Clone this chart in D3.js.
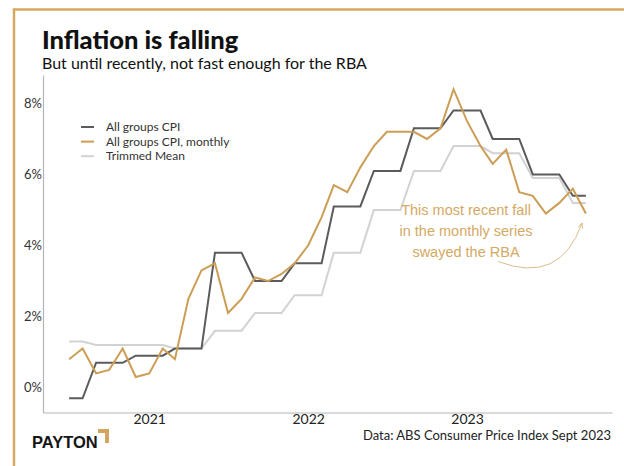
<!DOCTYPE html>
<html>
<head>
<meta charset="utf-8">
<script src="https://cdn.jsdelivr.net/npm/d3@7"></script>
<style>
  html, body { margin: 0; padding: 0; background: #fff; }
  svg { display: block; }
</style>
</head>
<body>
<svg id="chart" width="624" height="466"></svg>
<script>
// Month-end series, July 2020 to October 2023
const months = d3.timeMonths(new Date(2020, 6, 1), new Date(2023, 10, 1));

// Quarterly CPI, annual % change (each quarter's value carried across its months)
const cpiAllGroups = [
  -0.3, -0.3, 0.7, 0.7, 0.7, 0.9, 0.9, 0.9, 1.1, 1.1,
  1.1, 3.8, 3.8, 3.8, 3.0, 3.0, 3.0, 3.5, 3.5, 3.5,
  5.1, 5.1, 5.1, 6.1, 6.1, 6.1, 7.3, 7.3, 7.3, 7.8,
  7.8, 7.8, 7.0, 7.0, 7.0, 6.0, 6.0, 6.0, 5.4, 5.4
];

// Monthly CPI indicator, annual % change
const cpiMonthly = [
  0.8, 1.1, 0.4, 0.5, 1.1, 0.3, 0.4, 1.1, 0.8, 2.5,
  3.3, 3.5, 2.1, 2.5, 3.1, 3.0, 3.2, 3.5, 4.0, 4.8,
  5.7, 5.5, 6.2, 6.8, 7.2, 7.2, 7.2, 7.0, 7.3, 8.4,
  7.5, 6.8, 6.3, 6.7, 5.5, 5.4, 4.9, 5.2, 5.6, 4.9
];

// Trimmed mean, annual % change
const trimmedMean = [
  1.3, 1.3, 1.2, 1.2, 1.2, 1.2, 1.2, 1.2, 1.1, 1.1,
  1.1, 1.6, 1.6, 1.6, 2.1, 2.1, 2.1, 2.6, 2.6, 2.6,
  3.8, 3.8, 3.8, 5.0, 5.0, 5.0, 6.1, 6.1, 6.1, 6.8,
  6.8, 6.8, 6.6, 6.6, 6.6, 5.9, 5.9, 5.9, 5.2, 5.2
];

const yTicks = [0, 2, 4, 6, 8];
const seriesNames = ["All groups CPI", "All groups CPI, monthly", "Trimmed Mean"];
const seriesColors = ["#5b5b5b", "#cc9d55", "#d2d2d2"];

const title = "Inflation is falling";
const subtitle = "But until recently, not fast enough for the RBA";
const sourceNote = "Data: ABS Consumer Price Index Sept 2023";
const noteLines = ["This most recent fall", "in the monthly series", "swayed the RBA"];

const svg = d3.select("#chart");
const gold = "#d5a861";
const headFont = "Lato, 'Noto Sans', sans-serif";

// Frame: top rule and left rule
svg.append("line").attr("x1", 14).attr("x2", 624).attr("y1", 9.5).attr("y2", 9.5)
  .attr("stroke", gold).attr("stroke-width", 2.5);
svg.append("line").attr("x1", 14).attr("x2", 14).attr("y1", 8.3).attr("y2", 466)
  .attr("stroke", gold).attr("stroke-width", 2.5);

// Titles
svg.append("text").attr("x", 42).attr("y", 49).text(title)
  .attr("font-family", headFont).attr("font-weight", 900).attr("font-size", 25.5)
  .attr("fill", "#111");
svg.append("text").attr("x", 42).attr("y", 68.5).text(subtitle)
  .attr("font-family", headFont).attr("font-size", 16).attr("fill", "#111");

// Scales
const x = d3.scaleTime()
  .domain([new Date(2020, 4, 2), new Date(2023, 10, 30)])
  .range([43, 612]);
const y = d3.scaleLinear().domain([-0.7, 8.8]).range([412.5, 75]);

// Axes
const xAxis = svg.append("g").attr("transform", `translate(0,${y(-0.7)})`)
  .call(d3.axisBottom(x).ticks(d3.timeYear.every(1)).tickFormat(d3.timeFormat("%Y"))
    .tickSize(0).tickPadding(2));
xAxis.select(".domain").attr("stroke", "#b5b5b5").attr("stroke-width", 1.2);
xAxis.selectAll("text").attr("font-family", headFont).attr("font-size", 14)
  .attr("fill", "#222");

const yAxis = svg.append("g").attr("transform", `translate(${x.range()[0]},0)`)
  .call(d3.axisLeft(y).tickValues(yTicks).tickFormat(d => d + "%")
    .tickSize(0).tickPadding(1));
yAxis.select(".domain").attr("stroke", "#b5b5b5").attr("stroke-width", 1.2);
yAxis.selectAll("text").attr("font-family", headFont).attr("font-size", 13)
  .attr("fill", "#333");

// Lines
const line = d3.line().x((d, i) => x(months[i])).y(d => y(d));
const plotOrder = [[trimmedMean, 2], [cpiAllGroups, 0], [cpiMonthly, 1]];
plotOrder.forEach(([vals, k]) => {
  svg.append("path").datum(vals).attr("d", line)
    .attr("fill", "none").attr("stroke", seriesColors[k])
    .attr("stroke-width", 2).attr("stroke-linejoin", "miter");
});

// Legend
const legend = svg.append("g").attr("transform", "translate(81,127)");
seriesNames.forEach((name, i) => {
  const row = legend.append("g").attr("transform", `translate(0,${i * 14.6})`);
  row.append("line").attr("x1", 0).attr("x2", 13).attr("y1", 0).attr("y2", 0)
    .attr("stroke", seriesColors[i]).attr("stroke-width", 2);
  row.append("text").attr("x", 25).attr("y", 4.2).text(name)
    .attr("font-family", headFont).attr("font-size", 12).attr("fill", "#333");
});

// Annotation on the latest monthly fall
const note = svg.append("text").attr("text-anchor", "middle")
  .attr("font-family", "'Liberation Sans', Arial, sans-serif").attr("font-size", 14.5)
  .attr("fill", "#d3a964");
noteLines.forEach((t, i) => {
  note.append("tspan").attr("x", 466).attr("y", 215 + i * 21).text(t);
});

const lastIdx = cpiMonthly.length - 1;
const tipX = x(months[lastIdx]) - 4, tipY = y(cpiMonthly[lastIdx]) + 10;
svg.append("defs").append("marker").attr("id", "head")
  .attr("viewBox", "0 0 10 10").attr("refX", 8).attr("refY", 5)
  .attr("markerWidth", 6).attr("markerHeight", 6).attr("orient", "auto")
  .append("path").attr("d", "M0,1 L9,5 L0,9").attr("fill", "none")
  .attr("stroke", "#d9b57b").attr("stroke-width", 1.4);
svg.append("path")
  .attr("d", `M498,261.5 Q560,285 ${tipX},${tipY}`)
  .attr("fill", "none").attr("stroke", "#dcbd8b").attr("stroke-width", 1)
  .attr("marker-end", "url(#head)");

// Footer
svg.append("text").attr("x", 611).attr("y", 440).attr("text-anchor", "end")
  .text(sourceNote).attr("font-family", headFont).attr("font-size", 13)
  .attr("fill", "#222");

const logo = svg.append("g").attr("transform", "translate(32,448)");
logo.append("text").attr("x", 0).attr("y", 0).text("PAYTON")
  .attr("font-family", "'Liberation Sans', Arial, sans-serif").attr("font-weight", 700)
  .attr("font-size", 16.5).attr("fill", "#151515");
logo.append("path").attr("d", "M66,-19 L77,-19 L77,-5 L73,-5 L73,-15 L66,-15 Z")
  .attr("fill", "#d4a560");
</script>
</body>
</html>
